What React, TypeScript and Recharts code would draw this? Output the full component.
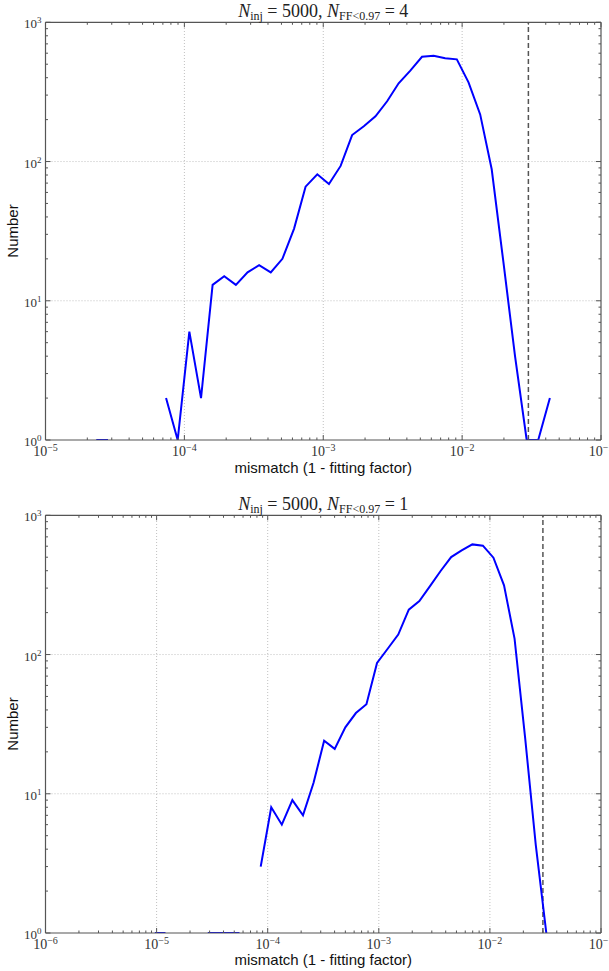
import { LineChart, Line, XAxis, YAxis, ReferenceLine } from "recharts";

// top panel: bin centres (mismatch) and counts, null = empty bin
const topMismatch = [
  2.32e-5, 2.82e-5, 3.42e-5, 4.14e-5, 5.02e-5, 6.09e-5,
  7.38e-5, 8.95e-5, 1.086e-4, 1.318e-4, 1.597e-4, 1.936e-4, 2.349e-4, 2.851e-4, 3.453e-4, 4.188e-4,
  5.08e-4, 6.166e-4, 7.46e-4, 9.06e-4, 1.099e-3, 1.334e-3, 1.614e-3, 1.959e-3, 2.377e-3, 2.884e-3,
  3.49e-3, 4.236e-3, 5.14e-3, 6.237e-3, 7.55e-3, 9.16e-3, 1.112e-2, 1.349e-2, 1.633e-2, 1.982e-2,
  2.404e-2, 2.917e-2, 3.532e-2, 4.285e-2,
];
const topCounts = [
  1, 1, null, null, null, null,
  2, 1, 6, 2, 13, 15, 13, 16, 18, 16,
  20, 33, 66, 81, 69, 93, 155, 179, 211, 271,
  365, 450, 565, 575, 552, 542, 370, 218, 88, 19,
  4, 1, 1, 2,
];

// bottom panel
const bottomMismatch = [
  9.65e-6, 1.202e-5, 1.496e-5, 1.862e-5, 2.318e-5, 2.89e-5, 3.6e-5, 4.48e-5, 5.57e-5, 6.95e-5,
  8.65e-5, 1.076e-4, 1.34e-4, 1.667e-4, 2.078e-4, 2.587e-4, 3.22e-4, 4.01e-4, 4.997e-4, 6.22e-4,
  7.74e-4, 9.64e-4, 1.202e-3, 1.496e-3, 1.862e-3, 2.318e-3, 2.89e-3, 3.6e-3, 4.48e-3, 5.57e-3,
  6.95e-3, 8.65e-3, 1.076e-2, 1.34e-2, 1.667e-2, 2.078e-2, 2.587e-2, 3.22e-2,
];
const bottomCounts = [
  1, 1, null, null, null, 1, 1, 1, 1, null,
  3, 8, 6, 9, 7, 12, 24, 21, 30, 38,
  44, 87, 110, 139, 210, 242, 310, 398, 501, 560,
  618, 605, 496, 314, 130, 25, 4.3, 1,
];

const topXExps = [-5, -4, -3, -2, -1];
const bottomXExps = [-6, -5, -4, -3, -2, -1];
const yExps = [0, 1, 2, 3];
const threshold = 0.03; // 1 - 0.97
const topNFail = 4;
const bottomNFail = 1;

const SERIF = '"Liberation Serif", "DejaVu Serif", serif';
const SANS = '"Liberation Sans", Arial, sans-serif';
const FRAME = "#555";

function logTicks(exps: number[]) {
  const t: number[] = [];
  for (let i = 0; i < exps.length - 1; i++) {
    for (let k = 1; k < 10; k++) t.push(k * Math.pow(10, exps[i]));
  }
  t.push(Math.pow(10, exps[exps.length - 1]));
  return t;
}

function isMajor(v: number) {
  const l = Math.log10(v);
  return Math.abs(l - Math.round(l)) < 1e-6;
}

function expText(v: number) {
  const e = Math.round(Math.log10(v));
  return e < 0 ? "\u2212" + Math.abs(e) : String(e);
}

function XTick(props: any) {
  const { x, y, payload, side } = props;
  const v = payload.value;
  const major = isMajor(v);
  const len = major ? 5 : 2.5;
  const dir = side === "bottom" ? -1 : 1;
  return (
    <g>
      <line x1={x} x2={x} y1={y} y2={y + dir * len} stroke={FRAME} strokeWidth={1} />
      {side === "bottom" && major && (
        <text x={x} y={y + 16} textAnchor="middle" fontFamily={SERIF} fontSize={14} fill="#333">
          10
          <tspan dy={-5} fontSize={10}>
            {expText(v)}
          </tspan>
        </text>
      )}
    </g>
  );
}

function YTick(props: any) {
  const { x, y, payload, side } = props;
  const v = payload.value;
  const major = isMajor(v);
  const len = major ? 5 : 2.5;
  const dir = side === "left" ? 1 : -1;
  return (
    <g>
      <line x1={x} x2={x + dir * len} y1={y} y2={y} stroke={FRAME} strokeWidth={1} />
      {side === "left" && major && (
        <text x={x - 4} y={y + 6} textAnchor="end" fontFamily={SERIF} fontSize={13} fill="#333">
          10
          <tspan dy={-5} fontSize={9}>
            {expText(v)}
          </tspan>
        </text>
      )}
    </g>
  );
}

function Panel({ mismatch, counts, xExps, nFail, top }: any) {
  const data = mismatch.map((m: number, i: number) => ({ x: m, n: counts[i] }));
  const xTicks = logTicks(xExps);
  const yTicks = logTicks(yExps);
  const xDomain = [Math.pow(10, xExps[0]), Math.pow(10, xExps[xExps.length - 1])];
  const yDomain = [1, 1000];
  const inner = xExps.slice(1, -1).map((e: number) => Math.pow(10, e));
  const innerY = yExps.slice(1, -1).map((e: number) => Math.pow(10, e));
  const axisLine = { stroke: FRAME, strokeWidth: 1.2 };

  return (
    <div style={{ position: "absolute", left: 0, top, width: 609, height: 490 }}>
      <LineChart width={609} height={490} data={data} margin={{ top: 21.3, right: 7, bottom: 49, left: 0 }}>
        <XAxis
          dataKey="x"
          type="number"
          scale="log"
          domain={xDomain}
          allowDataOverflow
          ticks={xTicks}
          interval={0}
          height={1}
          tickSize={0}
          tickMargin={0}
          tickLine={false}
          axisLine={axisLine}
          tick={(p: any) => <XTick {...p} side="bottom" />}
        />
        <XAxis
          xAxisId="top"
          orientation="top"
          dataKey="x"
          type="number"
          scale="log"
          domain={xDomain}
          allowDataOverflow
          ticks={xTicks}
          interval={0}
          height={1}
          tickSize={0}
          tickMargin={0}
          tickLine={false}
          axisLine={axisLine}
          tick={(p: any) => <XTick {...p} side="top" />}
        />
        <YAxis
          type="number"
          scale="log"
          domain={yDomain}
          allowDataOverflow
          ticks={yTicks}
          interval={0}
          width={45.5}
          tickSize={0}
          tickMargin={0}
          tickLine={false}
          axisLine={axisLine}
          tick={(p: any) => <YTick {...p} side="left" />}
        />
        <YAxis
          yAxisId="right"
          orientation="right"
          type="number"
          scale="log"
          domain={yDomain}
          allowDataOverflow
          ticks={yTicks}
          interval={0}
          width={1}
          tickSize={0}
          tickMargin={0}
          tickLine={false}
          axisLine={axisLine}
          tick={(p: any) => <YTick {...p} side="right" />}
        />
        {inner.map((v: number) => (
          <ReferenceLine key={"gx" + v} x={v} stroke="#c0c0c0" strokeDasharray="1 2" />
        ))}
        {innerY.map((v: number) => (
          <ReferenceLine key={"gy" + v} y={v} stroke="#c0c0c0" strokeDasharray="1 2" />
        ))}
        <ReferenceLine x={threshold} stroke="#555" strokeWidth={1.5} strokeDasharray="5 3" />
        <Line
          type="linear"
          dataKey="n"
          stroke="#0000ff"
          strokeWidth={2}
          dot={false}
          connectNulls={false}
          isAnimationActive={false}
        />
      </LineChart>
      <div
        style={{
          position: "absolute",
          left: 45.5,
          width: 555.5,
          top: 2,
          textAlign: "center",
          fontFamily: SERIF,
          fontSize: 18,
          lineHeight: "18px",
          color: "#222",
          whiteSpace: "nowrap",
        }}
      >
        <i>N</i>
        <span style={{ fontSize: 12, position: "relative", top: 3 }}>inj</span> = 5000, <i>N</i>
        <span style={{ fontSize: 12, position: "relative", top: 3 }}>FF&lt;0.97</span> = {nFail}
      </div>
      <div
        style={{
          position: "absolute",
          left: 45.5,
          width: 555.5,
          top: 459.5,
          textAlign: "center",
          fontFamily: SANS,
          fontSize: 15,
          lineHeight: "15px",
          color: "#111",
          whiteSpace: "nowrap",
        }}
      >
        mismatch (1 - fitting factor)
      </div>
      <div
        style={{
          position: "absolute",
          left: 12,
          top: 231,
          transform: "translate(-50%, -50%) rotate(-90deg)",
          fontFamily: SANS,
          fontSize: 15,
          lineHeight: "15px",
          color: "#111",
          whiteSpace: "nowrap",
        }}
      >
        Number
      </div>
    </div>
  );
}

export default function App() {
  return (
    <div style={{ position: "absolute", left: 0, top: 0, width: 609, height: 971, background: "#fff", overflow: "hidden" }}>
      <Panel mismatch={topMismatch} counts={topCounts} xExps={topXExps} nFail={topNFail} top={0} />
      <Panel mismatch={bottomMismatch} counts={bottomCounts} xExps={bottomXExps} nFail={bottomNFail} top={492.7} />
    </div>
  );
}
